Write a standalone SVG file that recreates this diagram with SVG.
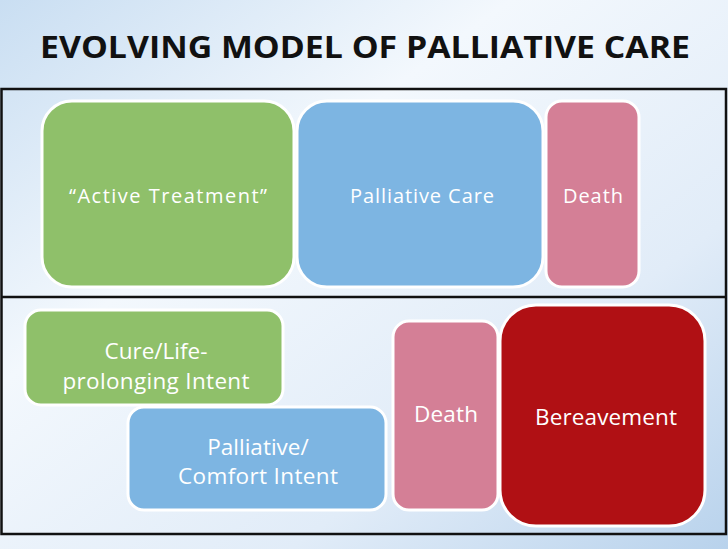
<svg xmlns="http://www.w3.org/2000/svg" width="728" height="549" viewBox="0 0 728 549">
<defs>
<linearGradient id="bg" x1="0" y1="0" x2="1" y2="1">
<stop offset="0" stop-color="#c9def2"/><stop offset="0.35" stop-color="#f3f8fd"/><stop offset="0.7" stop-color="#e1ecf8"/><stop offset="1" stop-color="#b8d2ec"/>
</linearGradient>
<style>
.b{stroke:#fff;stroke-width:3}
.t{font-family:"Open Sans","Liberation Sans",sans-serif;font-size:20px;fill:#fff;text-anchor:middle}
.l{font-size:22.5px}
</style>
</defs>
<rect width="728" height="549" fill="url(#bg)"/>
<text x="365" y="58" font-family="'Open Sans','Liberation Sans',sans-serif" font-weight="bold" font-size="30" fill="#111" text-anchor="middle" textLength="650" lengthAdjust="spacingAndGlyphs">EVOLVING MODEL OF PALLIATIVE CARE</text>
<g id="frame" fill="none" stroke="#111" stroke-width="2.5">
<rect x="1.5" y="89" width="724.5" height="445"/>
<line x1="1.5" y1="297" x2="726" y2="297"/>
</g>
<g id="active"><rect class="b" x="42" y="101" width="252" height="186" rx="30" fill="#8fc06a"/><text class="t" x="168" y="203" textLength="198">“Active Treatment”</text></g>
<g id="palliative"><rect class="b" x="297" y="101" width="246" height="186" rx="30" fill="#7db5e2"/><text class="t" x="422" y="203" textLength="144">Palliative Care</text></g>
<g id="death1"><rect class="b" x="546" y="101" width="93" height="186" rx="16" fill="#d47f96"/><text class="t" x="593" y="203" textLength="60">Death</text></g>
<g id="cure"><rect class="b" x="25" y="310" width="258" height="95" rx="16" fill="#8fc06a"/><text class="t l" x="156" y="359">Cure/Life-</text><text class="t l" x="156" y="389" textLength="187">prolonging Intent</text></g>
<g id="comfort"><rect class="b" x="128" y="407" width="258" height="103" rx="16" fill="#7db5e2"/><text class="t l" x="258" y="455">Palliative/</text><text class="t l" x="258" y="484" textLength="160">Comfort Intent</text></g>
<g id="death2"><rect class="b" x="393" y="321" width="105" height="189" rx="16" fill="#d47f96"/><text class="t l" x="446" y="422" textLength="64">Death</text></g>
<g id="bereavement"><rect class="b" x="500" y="305" width="205" height="221" rx="36" fill="#b01014"/><text class="t l" x="606" y="425" textLength="142">Bereavement</text></g>
<g id="connectors"/>
</svg>
